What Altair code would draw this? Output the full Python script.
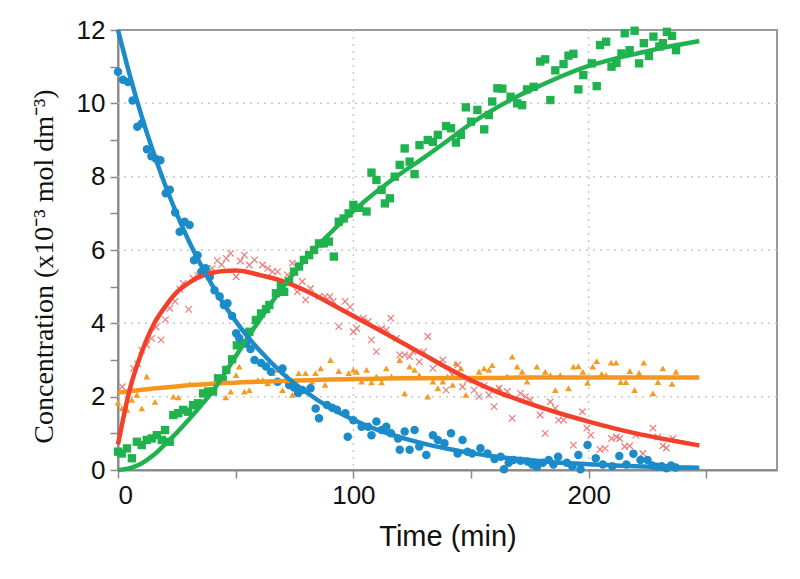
import altair as alt
import pandas as pd

blue_t = [0, 2.1, 4.2, 6.2, 8.2, 10.1, 12.3, 14.2, 16.2, 18.0, 20.3, 22.0, 24.3, 26.2, 28.3, 30.4,
          32.3, 33.8, 35.4, 37.2, 39.0, 41.0, 43.2, 45.0, 46.5, 48.5, 50.2, 51.5, 54.4, 56.3, 58.0,
          60.8, 62.9, 65.0, 67.8, 69.9, 72.7, 74.8, 76.5, 78.3, 81.8, 84.0, 85.4, 88.8, 91.0, 93.0,
          96.6, 97.6, 100.0, 103.5, 106.3, 107.7, 109.8, 112.0, 114.0, 116.0, 119.0, 119.7, 121.8,
          123.9, 126.0, 128.0, 131.0, 133.8, 135.9, 138.7, 141.5, 144.3, 146.4, 148.5, 150.5, 154.0,
          157.0, 160.0, 162.6, 164.0, 166.0, 168.0, 171.0, 174.0, 176.0, 178.0, 180.5, 183.0, 185.0,
          187.0, 190.7, 193.0, 195.6, 196.5, 199.5, 203.0, 206.0, 210.0, 213.0, 216.0, 219.0, 222.0,
          225.0, 227.0, 229.0, 231.0, 233.0, 235.0, 237.0]
blue_y = [10.86, 10.64, 10.58, 10.08, 9.36, 9.45, 8.75, 8.56, 8.48, 8.45, 7.55, 7.64, 7.02, 6.50, 6.77, 6.68,
          5.72, 5.86, 5.41, 5.50, 5.27, 4.90, 4.73, 4.50, 4.55, 4.20, 3.73, 3.60, 3.46, 3.30, 3.00,
          2.92, 2.82, 2.68, 2.41, 2.77, 2.32, 2.25, 2.10, 2.18, 2.23, 1.68, 1.41, 1.77, 1.70, 1.64,
          1.55, 0.91, 1.36, 1.18, 1.18, 0.95, 1.32, 1.09, 1.18, 1.00, 0.86, 0.55, 1.05,
          0.55, 1.09, 0.64, 0.41, 0.95, 0.82, 0.73, 1.00, 0.45, 0.82, 0.50, 0.45, 0.59,
          0.45, 0.30, 0.36, 0.02, 0.20, 0.27, 0.25, 0.23, 0.15, 0.09, 0.20, 0.27, 0.15,
          0.36, 0.20, 0.10, 0.41, 0.02, 0.68, 0.32, 0.15, 0.10, 0.38, 0.15, 0.44, 0.27,
          0.27, 0.12, 0.09, 0.10, 0.05, 0.12, 0.07]

red_t = [1.8, 6.6, 8.4, 10.1, 12.2, 14.3, 16.2, 18.3, 20.2, 22.0, 24.2, 26.3, 27.7, 30.0, 31.9, 34.0,
         36.1, 38.0, 40.1, 42.2, 44.0, 46.0, 47.8, 50.2, 52.0, 53.7, 55.8, 58.0, 61.4, 63.6, 65.7,
         67.8, 69.9, 72.0, 74.1, 76.2, 78.3, 79.7, 81.8, 85.4, 88.0, 90.0, 91.4, 93.8, 96.5, 98.6,
         100.0, 101.4, 104.2, 106.3, 107.7, 109.8, 112.0, 114.0, 115.9, 118.3, 119.7, 121.8, 123.9,
         125.3, 128.0, 129.9, 131.6, 133.8, 136.0, 138.0, 139.4, 142.0, 144.3, 146.4, 148.5, 151.3,
         153.4, 155.6, 157.6, 159.8, 161.9, 165.4, 167.5, 171.0, 173.1, 175.2, 179.4, 181.5, 183.7,
         185.8, 187.2, 189.3, 193.5, 197.3, 199.2, 200.9, 204.8, 207.0, 209.7, 211.8, 213.2, 215.3,
         217.4, 220.0, 223.0, 227.3, 229.4, 231.5, 233.0, 235.7]
red_y = [2.27, 2.77, 2.89, 3.27, 3.41, 3.59, 3.90, 3.55, 4.10, 4.41, 4.60, 4.93, 5.09, 4.38, 5.23, 5.30,
         5.41, 5.40, 5.50, 5.71, 5.60, 5.77, 5.91, 5.27, 5.70, 5.86, 5.59, 5.73, 5.59, 5.50, 5.41,
         5.41, 4.95, 5.32, 5.64, 4.86, 5.14, 4.64, 4.95, 4.73, 4.73, 4.73, 4.60, 3.91, 4.60, 4.45,
         3.77, 3.86, 4.14, 4.05, 3.55, 3.23, 3.86, 3.82, 4.14, 3.59, 3.14, 3.14, 3.09,
         3.23, 2.95, 3.23, 3.64, 2.77, 2.90, 3.00, 2.18, 2.60, 2.86, 2.27, 2.45, 2.18,
         2.00, 2.30, 2.05, 1.73, 2.23, 2.14, 1.41, 2.09, 2.00, 1.91, 1.50, 1.00, 1.86,
         1.68, 1.36, 1.36, 0.68, 1.59, 1.14, 0.95, 0.56, 0.59, 0.86, 0.90, 0.86, 0.64,
         0.66, 0.95, 0.45, 1.14, 0.90, 0.66, 0.60, 0.86]

green_t = [0, 1.6, 3.8, 5.9, 8.0, 10.1, 12.2, 14.3, 16.5, 18.6, 20.0, 22.0, 23.5, 25.6, 27.7, 29.8,
           31.9, 34.0, 36.2, 38.3, 40.4, 42.5, 44.5, 46.0, 48.5, 50.5, 53.7, 55.8, 58.6, 60.8, 62.9,
           64.3, 67.1, 69.2, 70.6, 72.7, 74.8, 76.9, 79.0, 81.2, 83.3, 85.4, 87.5, 89.6, 91.7, 93.8,
           95.9, 98.0, 100.0, 102.5, 105.6, 107.7, 109.8, 112.0, 113.4, 115.5, 117.6, 119.7, 121.8,
           123.9, 126.0, 128.1, 131.6, 133.8, 135.9, 139.4, 141.5, 143.6, 145.7, 147.8, 150.0, 152.7,
           155.6, 157.6, 159.0, 161.2, 163.3, 166.8, 169.6, 171.7, 173.8, 176.6, 179.4, 181.5, 183.7,
           185.8, 189.3, 191.4, 193.5, 195.6, 197.7, 201.3, 203.4, 204.8, 207.4, 209.7, 211.8, 213.9,
           215.3, 217.4, 219.5, 221.4, 223.4, 225.6, 227.5, 230.0, 231.5, 233.2, 235.4, 237.1]
green_y = [0.50, 0.45, 0.59, 0.32, 0.77, 0.68, 0.82, 0.86, 0.95, 0.82, 1.09, 0.77, 1.50, 1.55, 1.64, 1.59,
           1.77, 1.82, 2.09, 2.14, 2.14, 2.50, 2.45, 2.73, 3.02, 3.40, 3.45, 3.77, 4.09, 4.27, 4.39,
           4.50, 4.82, 5.05, 4.86, 5.14, 5.41, 5.55, 5.73, 5.86, 6.00, 6.18, 6.18, 6.23, 5.82, 6.77,
           6.86, 7.00, 7.23, 7.15, 7.05, 8.11, 7.91, 7.64, 7.27, 7.41, 8.00, 8.32, 8.77,
           8.41, 8.07, 8.86, 9.00, 8.95, 9.14, 9.38, 9.32, 8.93, 9.14, 9.89, 9.50, 9.82,
           9.29, 9.68, 10.05, 10.41, 10.40, 10.18, 10.00, 9.95, 10.38, 10.45, 11.14, 11.20, 10.09,
           10.90, 11.07, 11.30, 11.35, 10.38, 10.77, 11.09, 10.47, 11.59, 11.68, 11.00, 11.10, 11.36,
           11.91, 11.45, 11.98, 11.09, 11.64, 11.29, 11.82, 11.55, 11.64, 11.95, 11.84, 11.45]

orange_t = [0, 1.7, 3.8, 5.9, 8.0, 10.1, 12.2, 15.7, 23.5, 25.6, 27.7, 30.5, 35.4, 40.3, 45.1, 45.8,
            47.9, 50.2, 51.5, 53.7, 55.8, 59.4, 61.5, 63.6, 65.7, 67.8, 69.9, 72.0, 74.1, 76.8, 79.7,
            82.4, 83.9, 86.1, 88.0, 90.3, 93.8, 98.0, 100.0, 101.4, 103.5, 105.6, 107.7, 109.8, 112.0,
            114.0, 116.2, 119.7, 121.8, 123.9, 126.0, 128.0, 131.6, 133.8, 135.9, 138.0, 140.0, 142.2,
            143.6, 145.7, 147.8, 150.5, 153.4, 155.6, 157.6, 159.0, 161.9, 165.4, 167.5, 169.6, 171.7,
            173.8, 178.0, 181.5, 183.7, 185.8, 187.9, 191.4, 193.5, 195.6, 197.5, 199.5, 201.7, 203.4,
            205.5, 207.4, 209.5, 211.6, 213.6, 215.8, 217.5, 219.5, 221.4, 223.4, 227.3, 229.4, 231.5,
            235.4, 237.1]
orange_y = [1.84, 1.68, 1.64, 1.91, 2.05, 1.68, 2.55, 1.86, 2.00, 1.98, 1.64, 2.34, 2.14, 2.20, 2.41, 1.98,
            2.14, 2.59, 2.82, 2.14, 2.18, 2.45, 2.45, 2.36, 2.64, 2.73, 2.18, 2.55, 2.05, 2.64, 2.64,
            2.41, 2.64, 2.77, 2.32, 3.00, 2.70, 2.64, 2.73, 2.68, 2.41, 2.73, 2.39, 2.55, 2.39,
            2.77, 2.55, 3.00, 2.09, 2.82, 2.73, 2.59, 2.00, 2.41, 2.23, 2.41, 2.55, 2.32,
            2.91, 2.77, 2.05, 2.50, 2.68, 2.77, 2.73, 2.86, 2.23, 2.55, 3.09, 2.82, 2.68,
            2.41, 2.82, 2.68, 2.59, 2.18, 2.59, 2.23, 2.82, 2.83, 2.68, 2.38, 2.82, 2.97,
            2.62, 2.59, 2.93, 2.93, 2.40, 2.40, 2.70, 2.18, 2.65, 2.93, 2.09, 2.40, 2.77,
            2.35, 2.68]

# ---------------- fitted curves ----------------
fit_t = [0, 5, 10, 15, 20, 25, 30, 35, 40, 45, 50, 55, 60, 70, 80, 90, 100, 110, 120, 130, 140,
         150, 160, 170, 180, 190, 200, 210, 220, 230, 240, 247]
fit_blue = [12.0, 10.77, 9.66, 8.67, 7.78, 6.98, 6.26, 5.62, 5.04, 4.52, 4.06, 3.64, 3.27, 2.63, 2.12,
            1.70, 1.37, 1.10, 0.89, 0.72, 0.58, 0.46, 0.37, 0.30, 0.24, 0.19, 0.16, 0.13, 0.10, 0.08,
            0.07, 0.06]
fit_red = [0.70, 2.20, 3.20, 3.95, 4.45, 4.85, 5.10, 5.28, 5.38, 5.43, 5.44, 5.40, 5.32, 5.15, 4.88,
           4.55, 4.20, 3.85, 3.50, 3.14, 2.78, 2.45, 2.16, 1.92, 1.70, 1.50, 1.32, 1.15, 1.00, 0.87,
           0.75, 0.67]
fit_green = [0.0, 0.05, 0.18, 0.40, 0.70, 1.02, 1.37, 1.74, 2.13, 2.60, 3.10, 3.60, 4.08, 4.98, 5.78,
             6.45, 7.06, 7.60, 8.08, 8.52, 8.98, 9.45, 9.85, 10.20, 10.50, 10.78, 11.02, 11.20, 11.35,
             11.50, 11.62, 11.70]
fit_orange = [2.11, 2.15, 2.19, 2.22, 2.25, 2.28, 2.31, 2.33, 2.35, 2.37, 2.38, 2.40, 2.41, 2.43, 2.45,
              2.47, 2.48, 2.49, 2.50, 2.50, 2.51, 2.51, 2.51, 2.52, 2.52, 2.52, 2.52, 2.52, 2.52, 2.52,
              2.52, 2.52]

x_ticks = [0, 50, 100, 150, 200, 250]
y_ticks = list(range(0, 13))
x_grid = [100, 200]
y_grid = [2, 4, 6, 8, 10]

BLUE = "#1b8cc9"
RED_LINE = "#f2402a"
RED_PT = "#f07a78"
GREEN = "#1fb24f"
ORANGE = "#f7961e"
ORANGE_PT = "#f59a23"

xs = alt.Scale(domain=[0, 280], nice=False)
ys = alt.Scale(domain=[0, 12], nice=False)

x_axis = alt.Axis(values=x_ticks, labelExpr="datum.value % 100 == 0 ? datum.label : ''",
                  title="Time (min)", grid=False, tickSize=8, tickColor="#8a8a8a", tickWidth=1.5,
                  domainColor="#8a8a8a", domainWidth=2, labelFont="Liberation Sans",
                  labelFontSize=26, labelColor="#111", labelPadding=4,
                  titleFont="Liberation Sans", titleFontSize=29, titleFontWeight="normal",
                  titleColor="#111", titlePadding=14)
y_axis = alt.Axis(values=y_ticks, labelExpr="datum.value % 2 == 0 ? datum.label : ''",
                  title="Concentration  (x10⁻³ mol dm⁻³)", grid=False, tickSize=8,
                  tickColor="#8a8a8a", tickWidth=1.5, domainColor="#8a8a8a", domainWidth=2,
                  labelFont="Liberation Sans", labelFontSize=26, labelColor="#111", labelPadding=5,
                  titleFont="Liberation Serif", titleFontSize=28, titleFontWeight="normal",
                  titleColor="#111", titlePadding=18, titleY=236)


def pts(t, y):
    return pd.DataFrame({"t": t, "c": y})


grid_x = alt.Chart(pd.DataFrame({"g": x_grid})).mark_rule(
    color="#c8c8c8", strokeDash=[2, 5], strokeWidth=1.5).encode(x=alt.X("g:Q", scale=xs, axis=x_axis))
grid_y = alt.Chart(pd.DataFrame({"g": y_grid})).mark_rule(
    color="#c8c8c8", strokeDash=[2, 5], strokeWidth=1.5).encode(y=alt.Y("g:Q", scale=ys, axis=y_axis))

enc = dict(x=alt.X("t:Q", scale=xs, axis=x_axis), y=alt.Y("c:Q", scale=ys, axis=y_axis))

p_orange = alt.Chart(pts(orange_t, orange_y)).mark_point(
    shape="triangle-up", filled=True, color=ORANGE_PT, size=45, opacity=1).encode(**enc)
p_red = alt.Chart(pts(red_t, red_y)).mark_point(
    shape="M-1,-1L1,1M-1,1L1,-1", filled=False, color=RED_PT, size=42, strokeWidth=1.2,
    opacity=1).encode(**enc)
p_green = alt.Chart(pts(green_t, green_y)).mark_point(
    shape="square", filled=True, color=GREEN, size=70, opacity=1).encode(**enc)
p_blue = alt.Chart(pts(blue_t, blue_y)).mark_point(
    shape="circle", filled=True, color=BLUE, size=72, opacity=1).encode(**enc)


def line(vals, color):
    return alt.Chart(pd.DataFrame({"t": fit_t, "c": vals})).mark_line(
        color=color, strokeWidth=4.5, interpolate="monotone").encode(**enc)


chart = alt.layer(
    grid_x, grid_y,
    p_orange, p_red, p_green, p_blue,
    line(fit_orange, ORANGE), line(fit_red, RED_LINE), line(fit_green, GREEN), line(fit_blue, BLUE),
).properties(
    width=659, height=440,
    autosize=alt.AutoSizeParams(type="none"),
    padding={"left": 110, "top": 22, "right": 15, "bottom": 101},
    background="white",
).configure_view(stroke="#9a9a9a", strokeWidth=2)

chart.save("out.html", embed_options={"renderer": "svg", "actions": False})
